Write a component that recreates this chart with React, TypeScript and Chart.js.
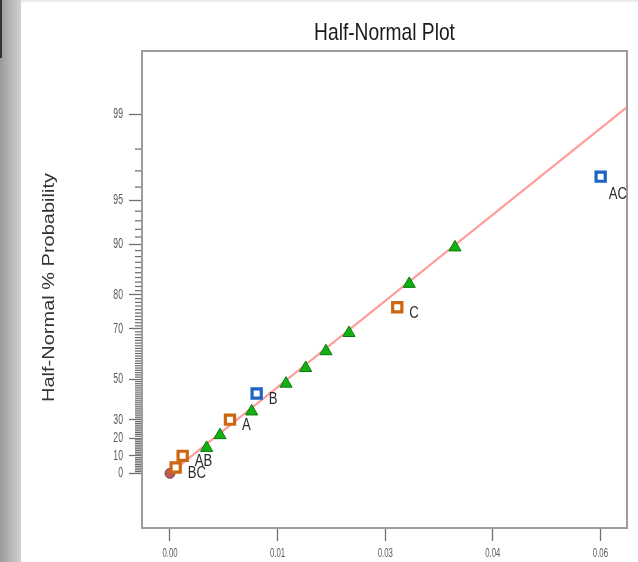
import React, { useEffect, useRef } from 'react';
import { Chart, registerables } from 'chart.js';

Chart.register(...registerables);

// ---- Text ----
const chartTitle = 'Half-Normal Plot';
const yAxisTitle = 'Half-Normal % Probability';

// ---- Axes ----
const xTickValues = [0, 0.015, 0.03, 0.045, 0.06];
const xTickLabels = ['0.00', '0.01', '0.03', '0.04', '0.06'];
const yTickPercents = [0, 10, 20, 30, 50, 70, 80, 90, 95, 99];
const yTickLabels = ['0', '10', '20', '30', '50', '70', '80', '90', '95', '99'];
const X_MIN = -0.0039;
const X_MAX = 0.0637;
const Z_MIN = -0.392;
const Z_MAX = 3.03;

// ---- Data (|effect| vs half-normal % probability) ----
const negEffectLabels = ['BC', 'AB', 'A', 'C'];
const negEffectX = [0.00079, 0.00177, 0.00836, 0.03168];
const negEffectP = [3.33, 10.0, 30.0, 76.67];

const posEffectLabels = ['B', 'AC'];
const posEffectX = [0.01208, 0.06003];
const posEffectP = [43.33, 96.67];

const errorX = [0.00511, 0.00697, 0.01139, 0.01617, 0.01891, 0.02174, 0.02495, 0.03335, 0.03972];
const errorP = [14.5, 21.6, 34.3, 48.0, 55.0, 61.9, 68.6, 82.6, 89.5];

const originX = [0];
const originP = [0];

const fitLineX = [0, 0.0637];
const fitLineP = [0, 99.14];

// ---- Half-normal probability transform ----
function normInv(p: number): number {
  const a = [-3.969683028665376e1, 2.209460984245205e2, -2.759285104469687e2, 1.38357751867269e2, -3.066479806614716e1, 2.506628277459239];
  const b = [-5.447609879822406e1, 1.615858368580409e2, -1.556989798598866e2, 6.680131188771972e1, -1.328068155288572e1];
  const c = [-7.784894002430293e-3, -3.223964580411365e-1, -2.400758277161838, -2.549671750376102, 4.374664141464968, 2.938163982698783];
  const d = [7.784695709041462e-3, 3.224671290700398e-1, 2.445134137142996, 3.754408661907416];
  const pl = 0.02425;
  const ph = 1 - pl;
  if (p <= 0) return -Infinity;
  if (p >= 1) return Infinity;
  if (p < pl) {
    const q = Math.sqrt(-2 * Math.log(p));
    return (((((c[0] * q + c[1]) * q + c[2]) * q + c[3]) * q + c[4]) * q + c[5]) / ((((d[0] * q + d[1]) * q + d[2]) * q + d[3]) * q + 1);
  }
  if (p <= ph) {
    const q = p - 0.5;
    const r = q * q;
    return ((((((a[0] * r + a[1]) * r + a[2]) * r + a[3]) * r + a[4]) * r + a[5]) * q) / (((((b[0] * r + b[1]) * r + b[2]) * r + b[3]) * r + b[4]) * r + 1);
  }
  const q = Math.sqrt(-2 * Math.log(1 - p));
  return -(((((c[0] * q + c[1]) * q + c[2]) * q + c[3]) * q + c[4]) * q + c[5]) / ((((d[0] * q + d[1]) * q + d[2]) * q + d[3]) * q + 1);
}
const hnz = (pct: number) => (pct <= 0 ? 0 : normInv(0.5 + pct / 200));
const toPoints = (xs: number[], ps: number[]) => xs.map((x, i) => ({ x, y: hnz(ps[i]) }));

const FONT = '"Liberation Sans", Arial, sans-serif';

const decorPlugin = {
  id: 'decor',
  afterDraw(chart: any) {
    const { ctx, chartArea: ca, scales } = chart;
    const xs = scales.x;
    const ys = scales.y;
    ctx.save();

    // minor probability ticks
    ctx.strokeStyle = '#6a6a6a';
    ctx.lineWidth = 1.2;
    for (let p = 1; p < 99; p++) {
      if (yTickPercents.includes(p)) continue;
      const y = ys.getPixelForValue(hnz(p));
      ctx.beginPath();
      ctx.moveTo(ca.left - 7, y);
      ctx.lineTo(ca.left, y);
      ctx.stroke();
    }

    // frame
    ctx.strokeStyle = '#9c9c9c';
    ctx.lineWidth = 2;
    ctx.strokeRect(ca.left, ca.top, ca.right - ca.left, ca.bottom - ca.top);

    // y tick labels
    ctx.fillStyle = '#5a5a5a';
    ctx.font = `14px ${FONT}`;
    ctx.textAlign = 'right';
    ctx.textBaseline = 'middle';
    yTickPercents.forEach((p, i) => {
      const y = ys.getPixelForValue(hnz(p));
      ctx.save();
      ctx.translate(ca.left - 19, y);
      ctx.scale(0.62, 1);
      ctx.fillText(yTickLabels[i], 0, 0);
      ctx.restore();
    });

    // x tick labels
    ctx.font = `13px ${FONT}`;
    ctx.textAlign = 'center';
    xTickValues.forEach((v, i) => {
      const x = xs.getPixelForValue(v);
      ctx.save();
      ctx.translate(x, ca.bottom + 25);
      ctx.scale(0.6, 1);
      ctx.fillText(xTickLabels[i], 0, 0);
      ctx.restore();
    });

    // title
    ctx.fillStyle = '#1a1a1a';
    ctx.font = `24px ${FONT}`;
    ctx.textAlign = 'center';
    ctx.textBaseline = 'alphabetic';
    ctx.save();
    ctx.translate((ca.left + ca.right) / 2, 40);
    ctx.scale(0.8, 1);
    ctx.fillText(chartTitle, 0, 0);
    ctx.restore();

    // y axis title
    ctx.fillStyle = '#333333';
    ctx.font = `20px ${FONT}`;
    ctx.save();
    ctx.translate(54, (ca.top + ca.bottom) / 2 - 2);
    ctx.rotate(-Math.PI / 2);
    ctx.scale(1, 0.8);
    ctx.fillText(yAxisTitle, 0, 0);
    ctx.restore();

    // point labels
    ctx.fillStyle = '#2a2a2a';
    ctx.font = `16px ${FONT}`;
    ctx.textAlign = 'left';
    ctx.textBaseline = 'middle';
    const drawLabels = (dsIndex: number, labels: string[]) => {
      const meta = chart.getDatasetMeta(dsIndex);
      meta.data.forEach((pt: any, i: number) => {
        const txt = labels[i];
        const w = ctx.measureText(txt).width * 0.82;
        let lx = pt.x + 12;
        let ly = pt.y + 6;
        if (lx + w > ca.right) {
          lx = ca.right - w;
          ly = pt.y + 18;
        }
        ctx.save();
        ctx.translate(lx, ly);
        ctx.scale(0.82, 1);
        ctx.fillText(txt, 0, 0);
        ctx.restore();
      });
    };
    drawLabels(0, negEffectLabels);
    drawLabels(1, posEffectLabels);

    ctx.restore();
  },
};

export default function App() {
  const ref = useRef<HTMLCanvasElement>(null);

  useEffect(() => {
    if (!ref.current) return;
    const chart = new Chart(ref.current, {
      type: 'scatter',
      data: {
        datasets: [
          {
            label: 'Negative effects',
            data: toPoints(negEffectX, negEffectP),
            pointStyle: 'rect',
            pointRadius: 6.5,
            backgroundColor: '#ffffff',
            borderColor: '#cc6610',
            borderWidth: 3.2,
            order: 1,
          },
          {
            label: 'Positive effects',
            data: toPoints(posEffectX, posEffectP),
            pointStyle: 'rect',
            pointRadius: 6.5,
            backgroundColor: '#ffffff',
            borderColor: '#1d64c4',
            borderWidth: 3.2,
            order: 2,
          },
          {
            label: 'Error',
            data: toPoints(errorX, errorP),
            pointStyle: 'triangle',
            pointRadius: 7,
            backgroundColor: '#12b012',
            borderColor: '#0a7a0a',
            borderWidth: 1,
            order: 3,
          },
          {
            label: 'Origin',
            data: toPoints(originX, originP),
            pointStyle: 'circle',
            pointRadius: 5,
            backgroundColor: '#b45c5c',
            borderColor: '#8e4040',
            borderWidth: 1,
            order: 4,
          },
          {
            label: 'Fit',
            data: toPoints(fitLineX, fitLineP),
            showLine: true,
            pointRadius: 0,
            borderColor: 'rgba(255, 120, 120, 0.75)',
            borderWidth: 2,
            order: 10,
          },
        ],
      },
      options: {
        animation: false,
        responsive: false,
        maintainAspectRatio: false,
        layout: { padding: { top: 51, right: 11, left: 0, bottom: 0 } },
        plugins: {
          legend: { display: false },
          tooltip: { enabled: false },
          title: { display: false },
        },
        scales: {
          x: {
            type: 'linear',
            min: X_MIN,
            max: X_MAX,
            afterBuildTicks: (s: any) => {
              s.ticks = xTickValues.map((v) => ({ value: v }));
            },
            afterFit: (s: any) => {
              s.height = 34;
            },
            ticks: { display: false },
            border: { display: false },
            grid: {
              display: true,
              drawOnChartArea: false,
              drawTicks: true,
              tickLength: 13,
              tickColor: '#707070',
              tickWidth: 1.3,
            },
          },
          y: {
            type: 'linear',
            min: Z_MIN,
            max: Z_MAX,
            afterBuildTicks: (s: any) => {
              s.ticks = yTickPercents.map((p) => ({ value: hnz(p) }));
            },
            afterFit: (s: any) => {
              s.width = 142;
            },
            ticks: { display: false },
            border: { display: false },
            grid: {
              display: true,
              drawOnChartArea: false,
              drawTicks: true,
              tickLength: 13,
              tickColor: '#707070',
              tickWidth: 1.3,
            },
          },
        },
      },
      plugins: [decorPlugin],
    } as any);
    return () => chart.destroy();
  }, []);

  return (
    <div style={{ position: 'fixed', left: 0, top: 0, width: 638, height: 562, background: '#ffffff', overflow: 'hidden' }}>
      <div style={{ position: 'absolute', left: 0, top: 0, width: 21, height: 562, background: 'linear-gradient(to right, #9a9a9a, #d2d2d2)' }} />
      <div style={{ position: 'absolute', left: 0, top: 0, width: 2, height: 58, background: '#333333' }} />
      <div style={{ position: 'absolute', left: 21, top: 0, width: 617, height: 2, background: '#ececec' }} />
      <canvas ref={ref} width={638} height={562} style={{ position: 'absolute', left: 0, top: 0, width: 638, height: 562 }} />
    </div>
  );
}
